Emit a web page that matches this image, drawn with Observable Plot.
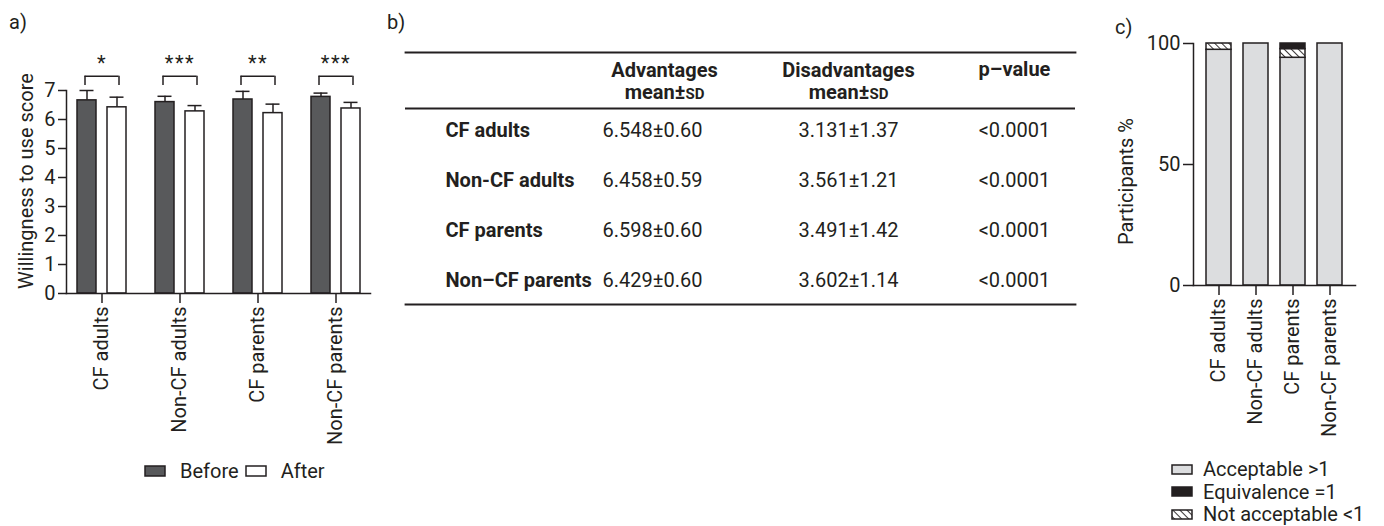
<!DOCTYPE html>
<html><head><meta charset="utf-8">
<script src="https://cdn.jsdelivr.net/npm/d3@7"></script>
<script src="https://cdn.jsdelivr.net/npm/@observablehq/plot@0.6"></script>
<style>
body{margin:0;background:#fff;font-family:Roboto,"Noto Sans",sans-serif;color:#231f20}
#root{position:relative;width:1384px;height:526px;overflow:hidden;background:#fff}
#root > svg, .abs{position:absolute}
.plabel{position:absolute;font-size:20px;line-height:20px}
#legA, #legC{position:absolute;font-family:Roboto,sans-serif;font-size:20px;color:#231f20}
#legA .la-swatches{font-family:Roboto,sans-serif;font-size:20px;margin:0;min-height:0}
#legA .la-swatch{margin-right:7px}
#legA .la-swatch > svg{margin-right:15px}
#legC .lc-swatches{font-family:Roboto,sans-serif;font-size:20px;margin:0}
#legC .lc-swatch{line-height:22.5px;padding-bottom:0}
#legC .lc-swatch > svg{margin-right:11px}
#legA rect, #legC rect{stroke:#231f20;stroke-width:1.5}
</style></head><body>
<svg width="0" height="0" style="position:absolute"><defs>
<pattern id="hatch" patternUnits="userSpaceOnUse" width="5" height="5" patternTransform="rotate(-45)">
<rect width="5" height="5" fill="#fff"></rect>
<line x1="0" y1="0" x2="0" y2="5" stroke="#231f20" stroke-width="1.8"></line>
</pattern></defs></svg>
<div id="root">
  <div class="plabel" style="left:9px;top:12px">a)</div>
  <div class="plabel" style="left:387px;top:12px">b)</div>
  <div class="plabel" style="left:1115px;top:17px">c)</div>
  <div id="legA" style="left:145px;top:459px"></div>
  <div id="legC" style="left:1172px;top:458px"></div>
</div>
<script>
// ---------- data ----------
const groups = ["CF adults", "Non-CF adults", "CF parents", "Non-CF parents"];
const periods = ["Before", "After"];
const beforeMean = [6.66, 6.60, 6.69, 6.78];
const beforeSD   = [0.34, 0.20, 0.28, 0.13];
const afterMean  = [6.42, 6.28, 6.22, 6.38];
const afterSD    = [0.35, 0.20, 0.31, 0.21];
const significance = ["*", "***", "**", "***"];
const yLabelA = "Willingness to use score";
const yTicksA = [0, 1, 2, 3, 4, 5, 6, 7];

const tableRows = ["CF adults", "Non-CF adults", "CF parents", "Non–CF parents"];
const tableHeaders = ["Advantages\nmean±SD", "Disadvantages\nmean±SD", "p–value"];
const advMean = ["6.548", "6.458", "6.598", "6.429"];
const advSD   = ["0.60", "0.59", "0.60", "0.60"];
const disMean = ["3.131", "3.561", "3.491", "3.602"];
const disSD   = ["1.37", "1.21", "1.42", "1.14"];
const pValues = ["<0.0001", "<0.0001", "<0.0001", "<0.0001"];

const responseTypes = ["Acceptable >1", "Equivalence =1", "Not acceptable <1"];
const acceptable    = [97.4, 100, 94.1, 100];
const equivalence   = [0, 0, 2.3, 0];
const notAcceptable = [2.6, 0, 3.6, 0];
const yLabelC = "Participants %";
const yTicksC = [0, 50, 100];

// ---------- styles ----------
const FONT = "Roboto, 'Noto Sans', sans-serif";
const INK = "#231f20";
const DARK = "#58595b";
const LIGHT = "#dcdddf";
const SW = 1.5;
const root = document.getElementById("root");
const baseStyle = {fontFamily: FONT, fontSize: "20px", color: INK, background: "transparent", overflow: "visible"};

// ---------- panel a ----------
const aData = groups.flatMap((g, i) => [
  {group: g, period: "Before", mean: beforeMean[i], sd: beforeSD[i]},
  {group: g, period: "After", mean: afterMean[i], sd: afterSD[i]}
]);
const shift = {Before: -15, After: 15};
const BR_LOW = 7.17, BR_TOP = 7.49, STAR_Y = 7.93;
const plotA = Plot.plot({
  width: 375, height: 460,
  marginLeft: 66, marginRight: 5, marginTop: 90, marginBottom: 167,
  style: baseStyle,
  x: {domain: groups, paddingInner: 0.758, paddingOuter: 0.315},
  y: {domain: [0, 7]},
  color: {domain: periods, range: [DARK, "#ffffff"]},
  marks: [
    ...periods.map(p => Plot.barY(aData.filter(d => d.period === p), {x: "group", y: "mean", fill: "period", stroke: INK, strokeWidth: SW, dx: shift[p]})),
    ...periods.map(p => Plot.ruleX(aData.filter(d => d.period === p), {x: "group", y1: "mean", y2: d => d.mean + d.sd, stroke: INK, strokeWidth: SW, dx: shift[p]})),
    ...periods.map(p => Plot.tickY(aData.filter(d => d.period === p), {x: "group", y: d => d.mean + d.sd, stroke: INK, strokeWidth: SW, inset: 2.5, dx: shift[p]})),
    Plot.tickY(groups, {x: d => d, y: () => BR_TOP, stroke: INK, strokeWidth: SW, insetLeft: -7.5, insetRight: -7.5}),
    Plot.ruleX(groups, {x: d => d, y1: () => BR_LOW, y2: () => BR_TOP, stroke: INK, strokeWidth: SW, dx: -17}),
    Plot.ruleX(groups, {x: d => d, y1: () => BR_LOW, y2: () => BR_TOP, stroke: INK, strokeWidth: SW, dx: 17}),
    Plot.text(groups, {x: d => d, y: () => STAR_Y, text: (d, i) => significance[i], fontSize: 20, fill: INK}),
    Plot.frame({anchor: "left", stroke: INK, strokeWidth: SW}),
    Plot.frame({anchor: "bottom", stroke: INK, strokeWidth: SW}),
    Plot.axisY({ticks: yTicksA, tickFormat: d3.format("d"), tickSize: 8, tickPadding: 3, label: null, strokeWidth: SW, fontSize: 20}),
    Plot.axisX({tickRotate: -90, tickSize: 10, tickPadding: 3, label: null, strokeWidth: SW, fontSize: 20}),
    Plot.text([yLabelA], {frameAnchor: "left", textAnchor: "middle", text: d => d, rotate: -90, dx: -40, dy: -11, fontSize: 20, fill: INK})
  ]
});
plotA.style.left = "0px"; plotA.style.top = "0px";
root.appendChild(plotA);
plotA.querySelectorAll("text").forEach(t => { if (/^\*+$/.test(t.textContent)) t.setAttribute("letter-spacing", "1.5"); });

// legend a
document.getElementById("legA").appendChild(Plot.legend({
  color: {type: "ordinal", domain: periods, range: [DARK, "#ffffff"]},
  swatchWidth: 20, swatchHeight: 10, className: "la"
}));

// ---------- panel b (table) ----------
const colKeys = ["adv", "dis", "p"];
const cells = tableRows.map((r, i) => ({row: r, adv: `${advMean[i]}±${advSD[i]}`, dis: `${disMean[i]}±${disSD[i]}`, p: pValues[i]}));
const plotB = Plot.plot({
  width: 700, height: 320,
  marginLeft: 25, marginRight: 5, marginTop: 52, marginBottom: 16,
  style: baseStyle,
  x: {type: "point", domain: colKeys, range: [278, 634], padding: 0, axis: null},
  y: {type: "point", domain: ["header", ...tableRows], range: [80, 280], padding: 0, axis: null},
  marks: [
    Plot.frame({anchor: "top", stroke: INK, strokeWidth: 1.8}),
    Plot.frame({anchor: "bottom", stroke: INK, strokeWidth: 1.8}),
    Plot.ruleY(["header"], {dy: 28, stroke: INK, strokeWidth: 1.8}),
    Plot.text(tableHeaders.slice(0, 1), {x: () => "adv", y: () => "header", text: d => d, fontWeight: "bold", fontSize: 20, lineHeight: 1.1, fill: INK, dx: 6}),
    Plot.text(tableHeaders.slice(1, 2), {x: () => "dis", y: () => "header", text: d => d, fontWeight: "bold", fontSize: 20, lineHeight: 1.1, fill: INK, dx: 12}),
    Plot.text(tableHeaders.slice(2), {x: () => "p", y: () => "header", text: d => d, fontWeight: "bold", fontSize: 20, dy: -11, fill: INK}),
    Plot.text(tableRows, {frameAnchor: "left", y: d => d, text: d => d, textAnchor: "start", dx: 40, fontWeight: "bold", fontSize: 20, fill: INK}),
    Plot.text(cells, {x: () => "adv", y: "row", text: "adv", fontSize: 20, fill: INK, dx: -6}),
    Plot.text(cells, {x: () => "dis", y: "row", text: "dis", fontSize: 20, fill: INK, dx: 12}),
    Plot.text(cells, {x: () => "p", y: "row", text: "p", fontSize: 20, fill: INK})
  ]
});
plotB.style.left = "380px"; plotB.style.top = "0px";
root.appendChild(plotB);
// small caps "SD"
plotB.querySelectorAll("tspan").forEach(t => {
  if (t.textContent === "mean±SD") {
    t.textContent = "mean±";
    const s = document.createElementNS("http://www.w3.org/2000/svg", "tspan");
    s.setAttribute("font-size", "15");
    s.textContent = "SD";
    t.appendChild(s);
  }
});

// ---------- panel c ----------
const cData = groups.flatMap((g, i) => [
  {group: g, type: responseTypes[0], pct: acceptable[i]},
  {group: g, type: responseTypes[2], pct: notAcceptable[i]},
  {group: g, type: responseTypes[1], pct: equivalence[i]}
]).filter(d => d.pct > 0);
const cRange = [LIGHT, INK, "url(#hatch)"];
const plotC = Plot.plot({
  width: 284, height: 455,
  marginLeft: 93, marginRight: 29, marginTop: 43, marginBottom: 170,
  style: baseStyle,
  x: {domain: groups, paddingInner: 0.33, paddingOuter: 0.34},
  y: {domain: [0, 100]},
  color: {domain: responseTypes, range: cRange},
  marks: [
    Plot.barY(cData, {x: "group", y: "pct", fill: "type", order: [responseTypes[0], responseTypes[2], responseTypes[1]], stroke: INK, strokeWidth: SW}),
    Plot.frame({anchor: "left", stroke: INK, strokeWidth: SW}),
    Plot.frame({anchor: "bottom", stroke: INK, strokeWidth: SW}),
    Plot.axisY({ticks: yTicksC, tickSize: 10, tickPadding: 3, label: null, strokeWidth: SW, fontSize: 20}),
    Plot.axisX({tickRotate: -90, tickSize: 10, tickPadding: 3, label: null, strokeWidth: SW, fontSize: 20}),
    Plot.text([yLabelC], {frameAnchor: "left", textAnchor: "middle", text: d => d, rotate: -90, dx: -67, dy: 17, fontSize: 20, fill: INK})
  ]
});
plotC.style.left = "1100px"; plotC.style.top = "0px";
root.appendChild(plotC);

document.getElementById("legC").appendChild(Plot.legend({
  color: {type: "ordinal", domain: responseTypes, range: cRange},
  columns: 1, swatchWidth: 20, swatchHeight: 9, className: "lc"
}));
</script>
</body></html>
